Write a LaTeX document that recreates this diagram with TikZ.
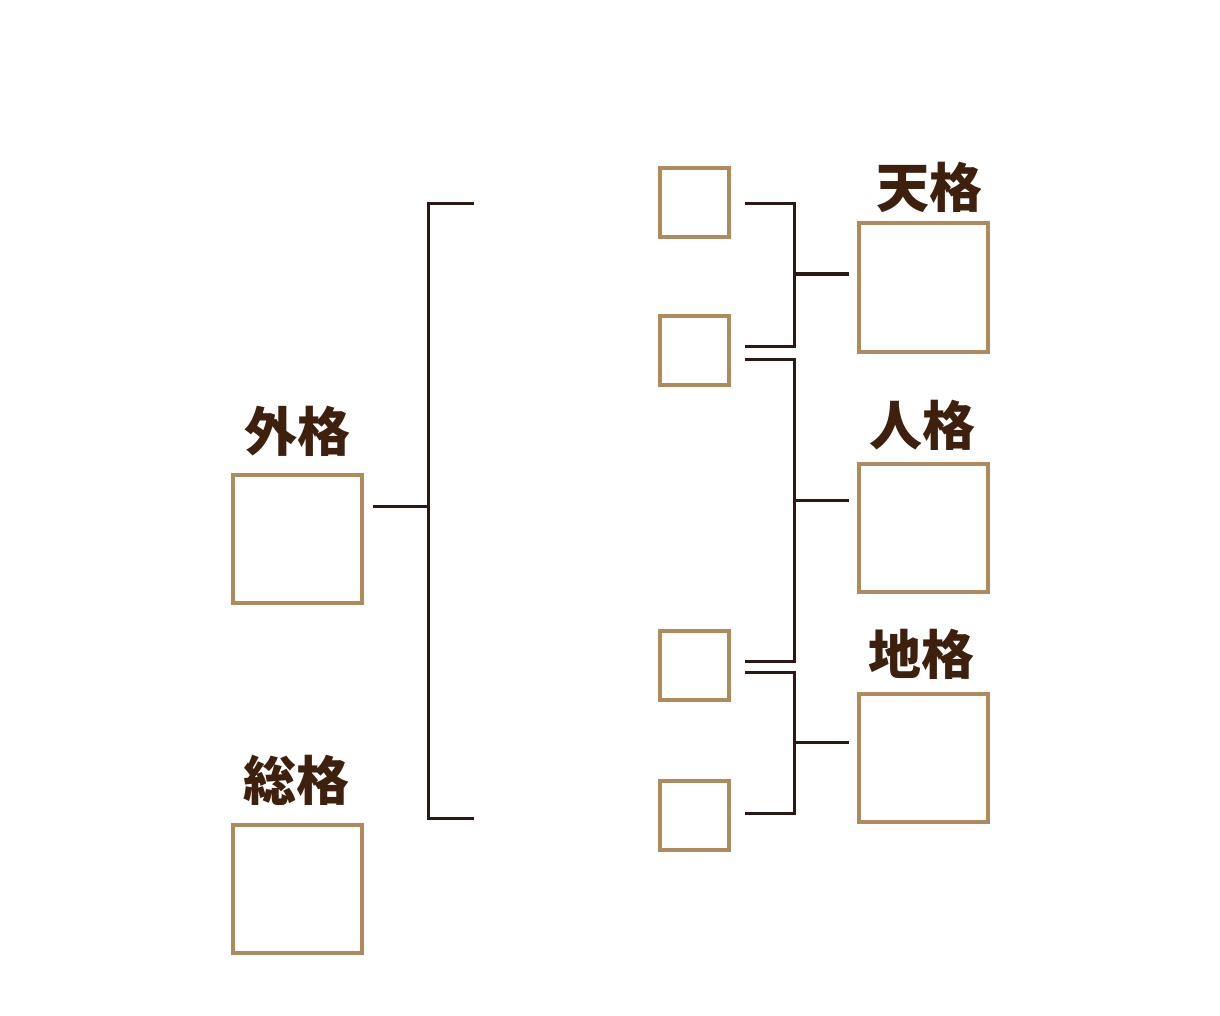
\documentclass[tikz,border=0pt]{standalone}
\usepackage{fontspec}
\newfontfamily\cjk{Noto Sans CJK JP}
\definecolor{boxc}{RGB}{176,138,90}
\definecolor{linec}{RGB}{45,25,20}
\definecolor{textc}{RGB}{62,32,15}
\begin{document}
\begin{tikzpicture}[x=1pt,y=-1pt,
  sbox/.style={draw=boxc,line width=4pt,minimum width=69pt,minimum height=69pt,inner sep=0pt,outer sep=0pt},
  bbox/.style={draw=boxc,line width=4pt,minimum width=129pt,minimum height=128pt,inner sep=0pt,outer sep=0pt},
  lbl/.style={text=textc,font=\cjk\bfseries\fontsize{53}{55}\selectfont,inner sep=0pt},
  conn/.style={draw=linec,line width=3pt}]
\useasboundingbox[fill=white] (0,0) rectangle (1220,1016);
% small boxes
\node[sbox] (s1) at (694.5,203) {};
\node[sbox] (s2) at (694.5,350) {};
\node[sbox] (s3) at (694.5,665) {};
\node[sbox] (s4) at (694.5,815) {};
% big boxes
\node[bbox] (ten) at (923.5,287.5) {};
\node[bbox] (jin) at (923.5,528) {};
\node[bbox] (chi) at (923.5,757.5) {};
\node[bbox] (gai) at (297,538.5) {};
\node[bbox] (sou) at (297,888.5) {};
% labels
\node[lbl] (tenl) at (929,187) {天格};
\node[lbl] (jinl) at (922,425) {人格};
\node[lbl] (chil) at (921,654) {地格};
\node[lbl] (gail) at (297,431) {外格};
\node[lbl] (soul) at (296,780) {総格};
% left bracket
\coordinate (lt) at (474,204);
\coordinate (ltc) at (428,204);
\coordinate (lbc) at (428,818);
\coordinate (lb) at (474,818);
\coordinate (lm) at (428,506);
\coordinate (ls) at (373,506);
\draw[conn] (lt) -- (ltc) -- (lbc) -- (lb);
\draw[conn] (ls) -- (lm);
% right bracket 1
\coordinate (a1) at (745,204);
\coordinate (a2) at (794,204);
\coordinate (a3) at (794,346);
\coordinate (a4) at (745,346);
\coordinate (am) at (794,274);
\coordinate (ae) at (849,274);
\draw[conn] (a1) -- (a2) -- (a3) -- (a4);
\draw[conn] (am) -- (ae);
% right bracket 2
\coordinate (b1) at (745,359);
\coordinate (b2) at (794,359);
\coordinate (b3) at (794,661);
\coordinate (b4) at (745,661);
\coordinate (bm) at (794,500);
\coordinate (be) at (849,500);
\draw[conn] (b1) -- (b2) -- (b3) -- (b4);
\draw[conn] (bm) -- (be);
% right bracket 3
\coordinate (c1) at (745,672);
\coordinate (c2) at (794,672);
\coordinate (c3) at (794,813);
\coordinate (c4) at (745,813);
\coordinate (cm) at (794,742);
\coordinate (ce) at (849,742);
\draw[conn] (c1) -- (c2) -- (c3) -- (c4);
\draw[conn] (cm) -- (ce);
\end{tikzpicture}
\end{document}
